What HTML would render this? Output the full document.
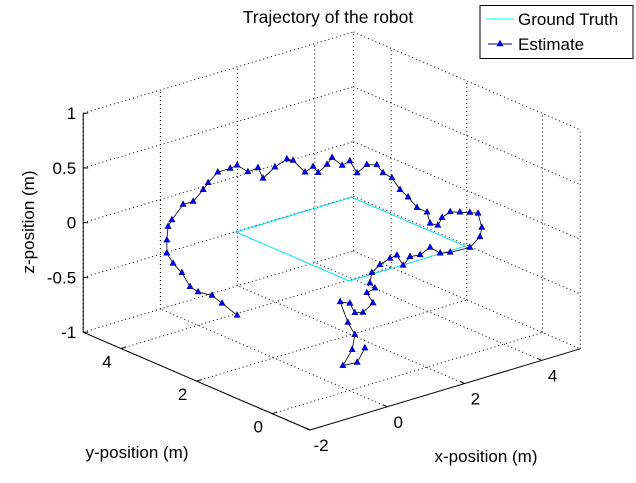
<!DOCTYPE html>
<html><head><meta charset="utf-8"><style>
body{margin:0;background:#fff;}
svg{display:block;font-family:"Liberation Sans",Arial,sans-serif;}
</style></head><body>
<svg id="chart" width="636" height="483" viewBox="0 0 636 483" xmlns="http://www.w3.org/2000/svg">
<rect width="636" height="483" fill="#fff"/>
<g id="grid"></g>
<g id="axes"></g>
<g id="series"></g>
<text x="328" y="23" font-size="17.5" text-anchor="middle">Trajectory of the robot</text>
<text x="0" y="0" font-size="17" text-anchor="middle" transform="translate(34,222) rotate(-90)">z-position (m)</text>
<text x="137" y="458" font-size="17" text-anchor="middle">y-position (m)</text>
<text x="486" y="462" font-size="17" text-anchor="middle">x-position (m)</text>
<g>
<rect x="480" y="5.5" width="153" height="53" fill="#fff" stroke="#000" stroke-width="1"/>
<line x1="486" y1="19" x2="514" y2="19" stroke="#00ffff" stroke-width="1"/>
<text x="518" y="25" font-size="17">Ground Truth</text>
<line x1="488" y1="44" x2="512" y2="44" stroke="#0000a0" stroke-width="1"/>
<polygon points="500,40.5 503,46 497,46" fill="#0000ff" stroke="#000080" stroke-width="0.6"/>
<text x="518" y="50" font-size="17">Estimate</text>
</g>
</svg>
<script>
const xTicks=[-2,0,2,4];
const yTicks=[0,2,4];
const zTicks=[-1,-0.5,0,0.5,1];
const zTickLabels=["-1","-0.5","0","0.5","1"];
const xLim=[-2,5], yLim=[-1,5], zLim=[-1,1];
const gtX=[0,3,3,0,0];
const gtY=[0,0,3,3,0];
const gtZ=[0,0,0,0,0];
const estX=[-0.95,-1.34,-1.60,-1.96,-2.17,-2.38,-2.61,-2.77,-2.77,-2.74,-2.64,-2.35,-2.09,-1.83,-1.70,-1.45,-1.13,-0.95,-0.67,-0.41,-0.28,0.03,0.34,0.50,0.81,1.02,1.15,1.38,1.51,1.77,1.97,2.16,2.41,2.67,2.83,3.06,3.27,3.48,3.71,3.97,4.05,4.25,4.36,4.57,4.82,5.08,5.29,5.39,5.34,5.08,4.57,4.31,4.05,3.79,3.53,3.35,3.19,3.01,2.75,2.54,2.49,2.62,2.41,2.57,2.31,2.10,1.97,1.72,1.92,2.10,2.03,1.79,2.16,2.36];
const estY=estX.map(()=>2);
const estZ=[-0.51,-0.36,-0.26,-0.19,-0.12,0.03,0.14,0.25,0.37,0.49,0.54,0.65,0.65,0.73,0.78,0.85,0.85,0.86,0.77,0.78,0.67,0.74,0.78,0.75,0.61,0.64,0.57,0.62,0.67,0.57,0.59,0.46,0.51,0.48,0.39,0.32,0.19,0.10,-0.02,-0.09,-0.20,-0.24,-0.18,-0.15,-0.18,-0.21,-0.24,-0.38,-0.46,-0.53,-0.52,-0.50,-0.42,-0.46,-0.45,-0.51,-0.40,-0.41,-0.44,-0.49,-0.58,-0.64,-0.66,-0.77,-0.83,-0.81,-0.71,-0.67,-0.88,-1.01,-1.14,-1.26,-1.27,-1.16];

const NS='http://www.w3.org/2000/svg';
function P(x,y,z){return [310+38.6*(x-xLim[0])-37.8*(y-yLim[0]), 430-11.6*(x-xLim[0])-16.3*(y-yLim[0])-109.5*(z-zLim[0])];}
function mk(parent,tag,attrs){const e=document.createElementNS(NS,tag);for(const k in attrs)e.setAttribute(k,attrs[k]);parent.appendChild(e);return e;}
const grid=document.getElementById('grid'), axes=document.getElementById('axes'), series=document.getElementById('series');
function gl(a,b){const e=mk(grid,'line',{x1:a[0],y1:a[1],x2:b[0],y2:b[1],stroke:'#000','stroke-width':1,'stroke-dasharray':'1,3'});

}
xTicks.forEach(x=>{gl(P(x,yLim[1],zLim[0]),P(x,yLim[1],zLim[1]));gl(P(x,yLim[0],zLim[0]),P(x,yLim[1],zLim[0]));});
yTicks.forEach(y=>{gl(P(xLim[1],y,zLim[0]),P(xLim[1],y,zLim[1]));gl(P(xLim[0],y,zLim[0]),P(xLim[1],y,zLim[0]));});
zTicks.forEach(z=>{gl(P(xLim[0],yLim[1],z),P(xLim[1],yLim[1],z));gl(P(xLim[1],yLim[1],z),P(xLim[1],yLim[0],z));});
gl(P(xLim[1],yLim[1],zLim[0]),P(xLim[1],yLim[1],zLim[1]));
gl(P(xLim[1],yLim[0],zLim[0]),P(xLim[1],yLim[0],zLim[1]));
function al(a,b,name){const e=mk(axes,'line',{x1:a[0],y1:a[1],x2:b[0],y2:b[1],stroke:'#000','stroke-width':1});

}
al(P(xLim[0],yLim[1],zLim[0]),P(xLim[0],yLim[1],zLim[1]),'z-axis');
al(P(xLim[0],yLim[1],zLim[0]),P(xLim[0],yLim[0],zLim[0]),'y-axis');
al(P(xLim[0],yLim[0],zLim[0]),P(xLim[1],yLim[0],zLim[0]),'x-axis');
function tl(x,y,s,anchor,name){const e=mk(axes,'text',{x:x,y:y,'font-size':17,'text-anchor':anchor});e.textContent=s;

}
zTicks.forEach((z,i)=>{const p=P(xLim[0],yLim[1],z);al(p,[p[0]+5,p[1]],'z-tick');tl(p[0]-7,p[1]+6,zTickLabels[i],'end','z-tick-label');});
yTicks.forEach(y=>{const p=P(xLim[0],y,zLim[0]);al(p,[p[0]+5,p[1]-1.5],'y-tick');tl(p[0]-14,p[1]+19,String(y),'middle','y-tick-label');});
xTicks.forEach(x=>{const p=P(x,yLim[0],zLim[0]);al(p,[p[0]-4,p[1]-2],'x-tick');tl(p[0]+11,p[1]+21,String(x),'middle','x-tick-label');});
const gtPts=gtX.map((x,i)=>P(x,gtY[i],gtZ[i]).join(',')).join(' ');
const gt=mk(series,'polyline',{points:gtPts,fill:'none',stroke:'#00e5ee','stroke-width':1});


const esPts=estX.map((x,i)=>P(x,estY[i],estZ[i]).join(',')).join(' ');
const es=mk(series,'polyline',{points:esPts,fill:'none',stroke:'#000','stroke-width':0.8});


estX.forEach((x,i)=>{const p=P(x,estY[i],estZ[i]);
const m=mk(series,'polygon',{points:`${p[0]},${p[1]-3.5} ${p[0]+3},${p[1]+2} ${p[0]-3},${p[1]+2}`,fill:'#0000ff',stroke:'#000080','stroke-width':0.6});

});
</script>
</body></html>
